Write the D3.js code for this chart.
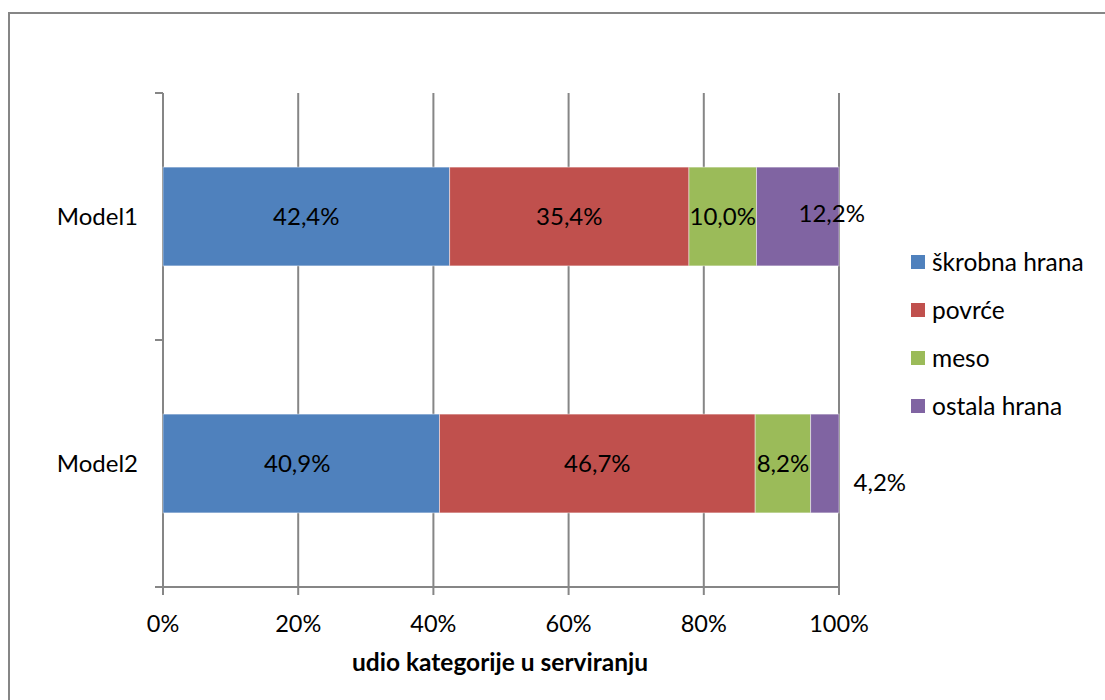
<!DOCTYPE html>
<html>
<head>
<meta charset="utf-8">
<script src="https://cdn.jsdelivr.net/npm/d3@7"></script>
<style>
  body { margin: 0; background: #fff; }
  svg text { font-family: Lato, "Open Sans", sans-serif; fill: #000; }
</style>
</head>
<body>
<svg id="chart" width="1105" height="700"></svg>
<script>
// data
var categories = ["Model1", "Model2"];
var seriesNames = ["škrobna hrana", "povrće", "meso", "ostala hrana"];
var model1 = [42.4, 35.4, 10.0, 12.2];
var model2 = [40.9, 46.7, 8.2, 4.2];
var xTicks = [0, 20, 40, 60, 80, 100];
var axisTitle = "udio kategorije u serviranju";

var colors = ["#4F81BD", "#C0504D", "#9BBB59", "#8064A2"];
var values = [model1, model2];

var svg = d3.select("#chart");

// outer chart border (runs off the right / bottom of the picture)
svg.append("rect")
    .attr("x", 9).attr("y", 13)
    .attr("width", 1110).attr("height", 700)
    .attr("fill", "none")
    .attr("stroke", "#868686")
    .attr("stroke-width", 2);

var x = d3.scaleLinear().domain([0, 100]).range([163, 839]);
var y = d3.scaleBand().domain(categories).range([93, 587])
    .paddingInner(0.6).paddingOuter(0.3);

var grey = "#868686";

// vertical gridlines
svg.append("g").selectAll("line")
    .data(xTicks.slice(1))
    .enter().append("line")
    .attr("x1", function(d) { return x(d); })
    .attr("x2", function(d) { return x(d); })
    .attr("y1", 93).attr("y2", 587)
    .attr("stroke", grey).attr("stroke-width", 2);

// bottom axis with ticks pointing down
svg.append("line")
    .attr("x1", 155).attr("x2", x(100))
    .attr("y1", 587).attr("y2", 587)
    .attr("stroke", grey).attr("stroke-width", 2);
svg.append("g").selectAll("line")
    .data(xTicks)
    .enter().append("line")
    .attr("x1", function(d) { return x(d); })
    .attr("x2", function(d) { return x(d); })
    .attr("y1", 587).attr("y2", 595)
    .attr("stroke", grey).attr("stroke-width", 2);
svg.append("g").selectAll("text")
    .data(xTicks)
    .enter().append("text")
    .attr("x", function(d) { return x(d); })
    .attr("y", 632)
    .attr("text-anchor", "middle")
    .style("font-size", "23.5px")
    .text(function(d) { return d + "%"; });

svg.append("text")
    .attr("x", 500).attr("y", 671)
    .attr("text-anchor", "middle")
    .style("font-size", "24.5px")
    .style("font-weight", "bold")
    .text(axisTitle);

// left axis, ticks sit on category boundaries
svg.append("line")
    .attr("x1", 163).attr("x2", 163)
    .attr("y1", 93).attr("y2", 587)
    .attr("stroke", grey).attr("stroke-width", 2);
var bounds = d3.range(categories.length + 1).map(function(i) { return 93 + i * y.step(); });
svg.append("g").selectAll("line")
    .data(bounds)
    .enter().append("line")
    .attr("x1", 155).attr("x2", 163)
    .attr("y1", function(d) { return d; })
    .attr("y2", function(d) { return d; })
    .attr("stroke", grey).attr("stroke-width", 2);
svg.append("g").selectAll("text")
    .data(categories)
    .enter().append("text")
    .attr("x", 138)
    .attr("y", function(d) { return y(d) + y.bandwidth() / 2; })
    .attr("dy", "0.35em")
    .attr("text-anchor", "end")
    .style("font-size", "24px")
    .text(function(d) { return d; });

// stacked segments
var segs = [];
categories.forEach(function(c, ci) {
    var acc = 0;
    values[ci].forEach(function(v, si) {
        segs.push({cat: c, ci: ci, si: si, v: v, x0: acc, x1: acc + v});
        acc += v;
    });
});

svg.append("g").selectAll("rect")
    .data(segs)
    .enter().append("rect")
    .attr("x", function(d) { return x(d.x0); })
    .attr("width", function(d) { return x(d.x1) - x(d.x0); })
    .attr("y", function(d) { return y(d.cat); })
    .attr("height", y.bandwidth())
    .attr("fill", function(d) { return colors[d.si]; })
    .attr("stroke", "rgba(255,255,255,0.45)")
    .attr("stroke-width", 1);

// labels that were dragged away from the centre in the original
var nudge = { "0-3": [34, -3], "1-3": [55, 19], "1-0": [-4, 0] };

svg.append("g").selectAll("text")
    .data(segs)
    .enter().append("text")
    .attr("x", function(d) {
        var n = nudge[d.ci + "-" + d.si] || [0, 0];
        return x((d.x0 + d.x1) / 2) + n[0];
    })
    .attr("y", function(d) {
        var n = nudge[d.ci + "-" + d.si] || [0, 0];
        return y(d.cat) + y.bandwidth() / 2 + n[1];
    })
    .attr("dy", "0.35em")
    .attr("text-anchor", "middle")
    .style("font-size", "24px")
    .text(function(d) { return d.v.toFixed(1).replace(".", ",") + "%"; });

// legend
var legend = svg.append("g").selectAll("g")
    .data(seriesNames)
    .enter().append("g")
    .attr("transform", function(d, i) { return "translate(911," + (262 + i * 48) + ")"; });
legend.append("rect")
    .attr("x", 0).attr("y", -7)
    .attr("width", 14).attr("height", 14)
    .attr("fill", function(d, i) { return colors[i]; });
legend.append("text")
    .attr("x", 21).attr("y", 0)
    .attr("dy", "0.35em")
    .style("font-size", "24.5px")
    .text(function(d) { return d; });
</script>
</body>
</html>
